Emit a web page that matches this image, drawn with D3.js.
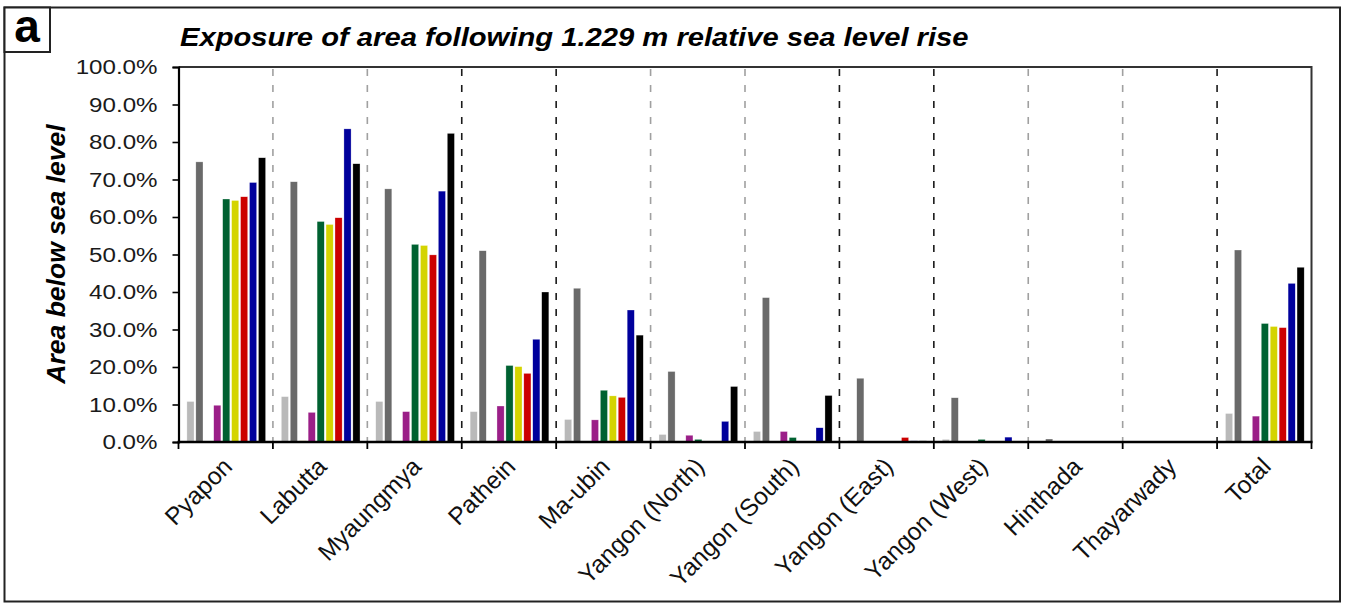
<!DOCTYPE html>
<html>
<head>
<meta charset="utf-8">
<script src="https://cdn.jsdelivr.net/npm/d3@7"></script>
<style>
  html, body { margin: 0; padding: 0; background: #fff; }
  svg { display: block; font-family: "Liberation Sans", Arial, sans-serif; }
</style>
</head>
<body>
<svg id="chart" width="1345" height="604"></svg>
<script>
// Townships along the category axis
const categories = ["Pyapon", "Labutta", "Myaungmya", "Pathein", "Ma-ubin",
  "Yangon (North)", "Yangon (South)", "Yangon (East)", "Yangon (West)",
  "Hinthada", "Thayarwady", "Total"];

// Share of area below sea level (%), one array per series
const lightGreyValues = [10.8, 12.1, 10.8, 8.1, 6.0, 2.0, 2.8, 0.35, 0.7, 0, 0, 7.6];
const darkGreyValues  = [74.7, 69.4, 67.5, 51.0, 41.0, 18.8, 38.5, 17.0, 11.8, 0.8, 0, 51.2];
const orangeValues    = [0.1, 0.3, 0, 0, 0, 0, 0, 0, 0, 0, 0, 0];
const purpleValues    = [9.8, 7.9, 8.1, 9.6, 5.9, 1.8, 2.8, 0.2, 0, 0, 0, 6.9];
const greenValues     = [64.8, 58.8, 52.7, 20.4, 13.8, 0.7, 1.2, 0.2, 0.7, 0, 0, 31.6];
const yellowValues    = [64.4, 58.0, 52.4, 20.1, 12.3, 0.1, 0.2, 0, 0, 0, 0, 30.8];
const redValues       = [65.4, 59.8, 49.9, 18.3, 11.9, 0.2, 0, 1.2, 0, 0, 0, 30.5];
const blueValues      = [69.2, 83.5, 66.9, 27.4, 35.2, 5.5, 3.8, 0.3, 1.3, 0.1, 0.15, 42.3];
const blackValues     = [75.8, 74.2, 82.3, 40.0, 28.5, 14.8, 12.4, 0.3, 0, 0, 0, 46.6];

// Y axis tick values (%)
const yTickValues = [0, 10, 20, 30, 40, 50, 60, 70, 80, 90, 100];

// Divider after each category: "major" = black dashes, "minor" = grey dashes
const dividerKinds = ["minor", "minor", "major", "major", "minor", "minor",
  "major", "major", "minor", "minor", "major"];

const series = [
  { values: lightGreyValues, color: "#b9b9b9" },
  { values: darkGreyValues,  color: "#6a6a6a" },
  { values: orangeValues,    color: "#e39a00" },
  { values: purpleValues,    color: "#9b1f88" },
  { values: greenValues,     color: "#006131" },
  { values: yellowValues,    color: "#d4d400" },
  { values: redValues,       color: "#cc0000" },
  { values: blueValues,      color: "#00009c" },
  { values: blackValues,     color: "#000000" }
];

const svg = d3.select("#chart");
const plot = { left: 178.5, right: 1311.5, top: 67, bottom: 442 };

// Outer panel frame and panel letter box
svg.append("rect")
  .attr("x", 4.5).attr("y", 7.5).attr("width", 1335.5).attr("height", 594)
  .attr("fill", "#fff").attr("stroke", "#222").attr("stroke-width", 2);
svg.append("rect")
  .attr("x", 4.5).attr("y", 7.5).attr("width", 45.5).attr("height", 44.5)
  .attr("fill", "#fff").attr("stroke", "#222").attr("stroke-width", 2);
svg.append("text")
  .attr("x", 27).attr("y", 42)
  .attr("text-anchor", "middle")
  .attr("font-size", 46).attr("font-weight", "bold")
  .text("a");

// Title (slightly widened face)
svg.append("text")
  .attr("transform", "translate(180,46) scale(1.145,1)")
  .attr("font-size", 25.5).attr("font-weight", "bold").attr("font-style", "italic")
  .text("Exposure of area following 1.229 m relative sea level rise");

// Scales
const x0 = d3.scaleBand().domain(categories).range([plot.left, plot.right]).padding(0);
const x1 = d3.scaleBand().domain(d3.range(series.length))
  .range([7.5, 88]).paddingInner(0.2).paddingOuter(0.1);
const y = d3.scaleLinear().domain([0, 100]).range([plot.bottom, plot.top]);

// Plot frame (top and right)
svg.append("path")
  .attr("d", `M${plot.left},${plot.top}H${plot.right}V${plot.bottom}`)
  .attr("fill", "none").attr("stroke", "#333").attr("stroke-width", 2);

// Category dividers
svg.append("g").selectAll("line")
  .data(dividerKinds)
  .join("line")
  .attr("x1", (d, i) => x0(categories[i + 1]))
  .attr("x2", (d, i) => x0(categories[i + 1]))
  .attr("y1", plot.top + 2).attr("y2", plot.bottom)
  .attr("stroke", d => d === "major" ? "#1a1a1a" : "#a0a0a0")
  .attr("stroke-width", 1.6)
  .attr("stroke-dasharray", "7,9");

// Bars
const groups = svg.append("g").selectAll("g")
  .data(categories)
  .join("g")
  .attr("transform", d => `translate(${x0(d)},0)`);

groups.selectAll("rect")
  .data((c, i) => series.map((s, k) => ({ k, v: s.values[i], color: s.color })))
  .join("rect")
  .attr("x", d => x1(d.k))
  .attr("width", x1.bandwidth())
  .attr("y", d => y(d.v))
  .attr("height", d => y(0) - y(d.v))
  .attr("fill", d => d.color)
  .attr("stroke", "#fff").attr("stroke-width", 0.5).attr("stroke-opacity", 0.6);

// Y axis
const yAxis = svg.append("g")
  .attr("transform", `translate(${plot.left},0)`)
  .call(d3.axisLeft(y).tickValues(yTickValues).tickSize(6).tickPadding(14)
    .tickFormat(d => d.toFixed(1) + "%"));
yAxis.select(".domain").attr("stroke", "#000").attr("stroke-width", 2.2);
yAxis.selectAll(".tick line").attr("stroke", "#000").attr("stroke-width", 1.6);
yAxis.selectAll(".tick text")
  .attr("x", null)
  .attr("transform", "translate(-21,0) scale(1.15,1)")
  .attr("font-size", 21).attr("fill", "#1a1a1a")
  .attr("font-family", "'Liberation Sans', Arial, sans-serif");

// X axis baseline and boundary ticks
svg.append("line")
  .attr("x1", plot.left - 1).attr("x2", plot.right + 1)
  .attr("y1", plot.bottom).attr("y2", plot.bottom)
  .attr("stroke", "#000").attr("stroke-width", 2.6);
svg.append("g").selectAll("line")
  .data(d3.range(categories.length + 1))
  .join("line")
  .attr("x1", i => i < categories.length ? x0(categories[i]) : plot.right)
  .attr("x2", i => i < categories.length ? x0(categories[i]) : plot.right)
  .attr("y1", plot.bottom).attr("y2", plot.bottom + 7)
  .attr("stroke", "#000").attr("stroke-width", 1.8);

// Category labels, rotated
svg.append("g").selectAll("text")
  .data(categories)
  .join("text")
  .attr("transform", d => `translate(${x0(d) + x0.bandwidth() / 2 + 8},${plot.bottom + 26}) rotate(-45)`)
  .attr("text-anchor", "end")
  .attr("font-size", 24.5).attr("fill", "#111")
  .text(d => d);

// Y axis title
svg.append("text")
  .attr("transform", `translate(65,254) rotate(-90)`)
  .attr("text-anchor", "middle")
  .attr("font-size", 26.5).attr("font-weight", "bold").attr("font-style", "italic")
  .text("Area below sea level");
</script>
</body>
</html>
